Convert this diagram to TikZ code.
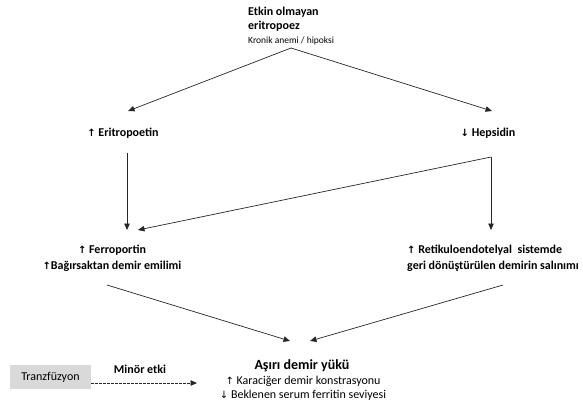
\documentclass[tikz,border=0pt]{standalone}
\usepackage{fontspec}
\setmainfont{Carlito}
\newfontfamily\arr{DejaVu Sans}
\newcommand{\upa}{{\arr\fontsize{10}{10}\selectfont ↑}}
\newcommand{\dna}{{\arr\fontsize{10}{10}\selectfont ↓}}
\usetikzlibrary{arrows.meta}
\begin{document}
\begin{tikzpicture}[x=1pt,y=-1pt,
  lbl/.style={inner sep=0pt,anchor=base,align=center,font=\bfseries\fontsize{12}{16}\selectfont},
  conn/.style={draw=black!85,line width=0.7pt,-{Triangle[length=6.5pt,width=5.5pt]}},
  dashconn/.style={conn,dash pattern=on 2.5pt off 1.5pt}]
\useasboundingbox (0,0) rectangle (583,416);
% nodes (multi-line nodes: base = baseline of last line)
\node[inner sep=0pt,align=left,anchor=base west,font=\bfseries\fontsize{12}{14}\selectfont] (top) at (248,29)
  {Etkin olmayan\\eritropoez};
\node[inner sep=0pt,anchor=base west,font=\fontsize{9.5}{11}\selectfont] (topsub) at (248,43) {Kronik anemi / hipoksi};
\node[lbl] (epo) at (123,136) {\upa\ Eritropoetin};
\node[lbl] (hep) at (488,136) {\dna\ Hepsidin};
\node[lbl] (ferro) at (112,269) {\upa\ Ferroportin\\\upa Bağırsaktan demir emilimi};
\node[lbl,align=left,anchor=base west] (rtk) at (407,269) {\upa\ Retikuloendotelyal\ \ sistemde\\geri dönüştürülen demirin salınımı};
\node[inner sep=0pt,anchor=base,font=\bfseries\fontsize{14}{16}\selectfont] (yuk) at (302,369) {Aşırı demir yükü};
\node[inner sep=0pt,anchor=base,align=center,font=\fontsize{12}{14.5}\selectfont] (yukdet) at (303,398.5)
  {\upa\ Karaciğer demir konstrasyonu\\\dna\ Beklenen serum ferritin seviyesi};
\node[fill=black!15,minimum width=81pt,minimum height=24pt,inner sep=0pt,font=\fontsize{12}{14}\selectfont] (tr) at (50.5,377) {Tranzfüzyon};
\node[lbl] (minor) at (140,373) {Minör etki};
% connector ends
\coordinate (apex) at (291,48);
\coordinate (epoIn) at (128,111);
\coordinate (hepIn) at (492,111);
\coordinate (epoOut) at (127,153);
\coordinate (ferroIn) at (127,230);
\coordinate (hepOut) at (491,157);
\coordinate (ferroIn2) at (138,230);
\coordinate (rtkIn) at (491,230);
\coordinate (ferroOut) at (107,285);
\coordinate (rtkOut) at (503,285);
\coordinate (yukInL) at (290,341);
\coordinate (yukInR) at (310,341);
\coordinate (yukInT) at (197,383);
% connectors
\draw[conn] (apex) -- (epoIn);
\draw[conn] (apex) -- (hepIn);
\draw[conn] (epoOut) -- (ferroIn);
\draw[conn] (hepOut) -- (ferroIn2);
\draw[conn] (hepOut) -- (rtkIn);
\draw[conn] (ferroOut) -- (yukInL);
\draw[conn] (rtkOut) -- (yukInR);
\draw[dashconn] (tr.east |- yukInT) -- (yukInT);
\end{tikzpicture}
\end{document}
